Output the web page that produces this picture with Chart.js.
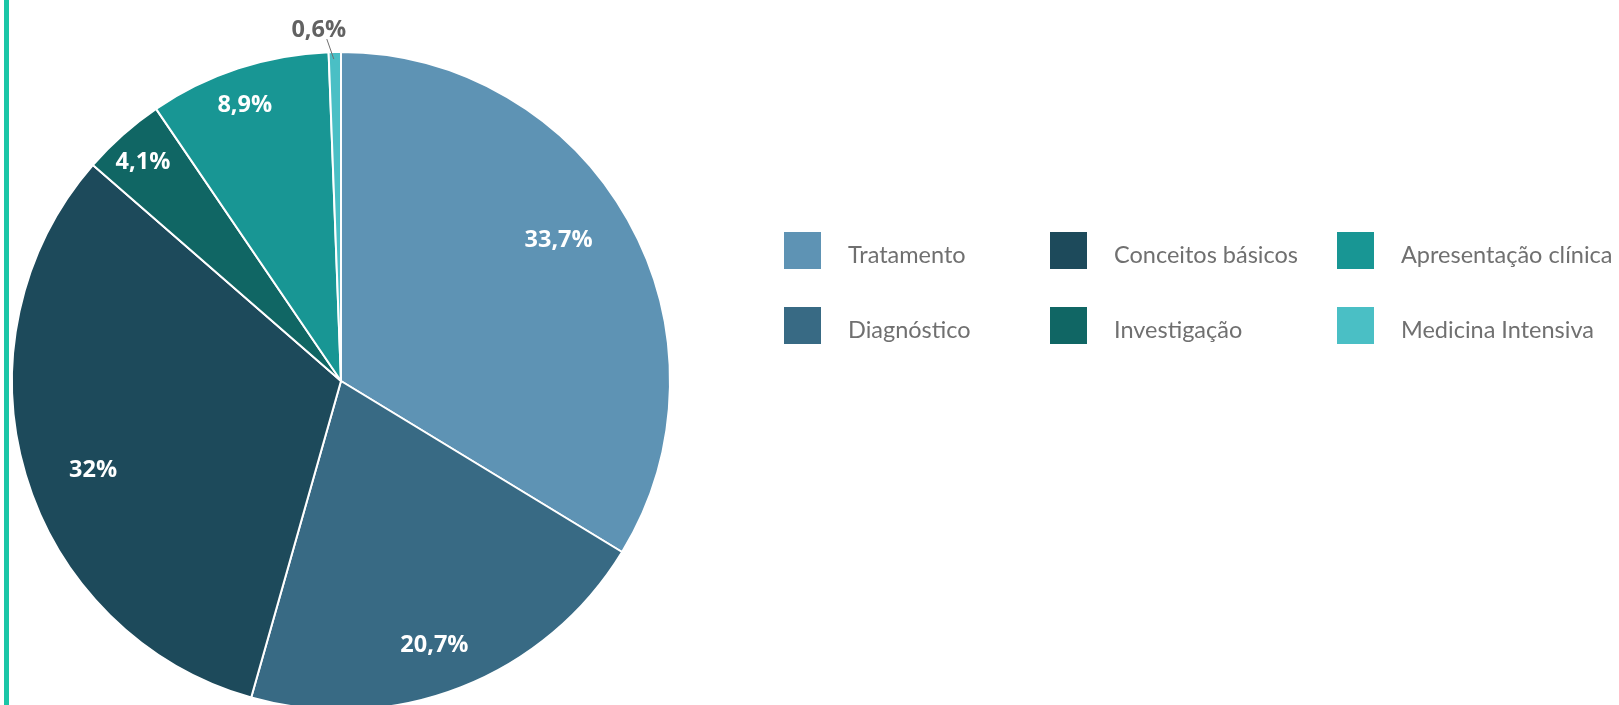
<!DOCTYPE html>
<html lang="pt">
<head>
<meta charset="utf-8">
<title>Distribuição por tema</title>
<script src="https://cdn.jsdelivr.net/npm/chart.js@4"></script>
<style>
  html, body { margin: 0; padding: 0; background: #ffffff; overflow: hidden; }
  #wrap { position: relative; width: 1619px; height: 705px; overflow: hidden; }
  #accent { position: absolute; left: 4px; top: 0; width: 5px; height: 705px; background: #1ac6a7; }
  #pie { position: absolute; left: 0; top: 0; }
</style>
</head>
<body>
<div id="wrap">
  <canvas id="pie" width="1619" height="720"></canvas>
  <div id="accent"></div>
</div>
<script>
// Share of questions per topic (%)
const categories = ['Tratamento', 'Diagnóstico', 'Conceitos básicos', 'Investigação', 'Apresentação clínica', 'Medicina Intensiva'];
const shares = [33.7, 20.7, 32, 4.1, 8.9, 0.6];
const sliceColors = ['#5e93b4', '#386a84', '#1d4a5b', '#106664', '#189694', '#4abfc5'];

// Percent text in Portuguese notation (decimal comma)
const valueLabels = shares.map(v => String(v).replace('.', ',') + '%');

// Where each value label sits: fraction of the radius and a small turn (degrees)
const labelPlacement = [
  { r: 0.79, turn: -3.8 },
  { r: 0.85, turn: 1.9 },
  { r: 0.80, turn: -3.1 },
  { r: 0.90, turn: -0.4 },
  { r: 0.89, turn: -1.0 },
  { outside: true }
];

const sliceLabels = {
  id: 'sliceLabels',
  afterDatasetsDraw(chart) {
    const ctx = chart.ctx;
    const arcs = chart.getDatasetMeta(0).data;
    ctx.save();
    ctx.font = 'bold 23.5px "Open Sans", sans-serif';
    ctx.textAlign = 'center';
    ctx.textBaseline = 'middle';
    arcs.forEach((arc, i) => {
      const p = arc.getProps(['x', 'y', 'startAngle', 'endAngle', 'outerRadius'], true);
      const mid = (p.startAngle + p.endAngle) / 2;
      const place = labelPlacement[i];
      if (place.outside) {
        const ex = p.x + Math.cos(mid) * p.outerRadius;
        const ey = p.y + Math.sin(mid) * p.outerRadius;
        ctx.strokeStyle = '#6f6f6f';
        ctx.lineWidth = 1;
        ctx.beginPath();
        ctx.moveTo(ex - 8, ey - 13);
        ctx.lineTo(ex - 1, ey + 7);
        ctx.stroke();
        ctx.fillStyle = '#626262';
        ctx.fillText(valueLabels[i], ex - 16, ey - 22);
      } else {
        const a = mid + place.turn * Math.PI / 180;
        const d = p.outerRadius * place.r;
        ctx.fillStyle = '#ffffff';
        ctx.fillText(valueLabels[i], p.x + Math.cos(a) * d, p.y + Math.sin(a) * d + 1);
      }
    });
    ctx.restore();
  }
};

// Legend laid out in three columns, two rows, filled column by column
const gridLegend = {
  id: 'gridLegend',
  afterDraw(chart) {
    const ctx = chart.ctx;
    const colX = [784, 1050, 1337];
    const rowY = [232, 307];
    const box = 37;
    ctx.save();
    ctx.font = '23.5px Lato, "Open Sans", sans-serif';
    ctx.textAlign = 'left';
    ctx.textBaseline = 'middle';
    categories.forEach((name, i) => {
      const x = colX[Math.floor(i / 2)];
      const y = rowY[i % 2];
      ctx.fillStyle = sliceColors[i];
      ctx.fillRect(x, y, box, box);
      ctx.fillStyle = '#707070';
      ctx.fillText(name, x + 64, y + box / 2 + 5);
    });
    ctx.restore();
  }
};

new Chart(document.getElementById('pie'), {
  type: 'pie',
  data: {
    labels: categories,
    datasets: [{
      data: shares,
      backgroundColor: sliceColors,
      borderColor: '#ffffff',
      borderWidth: 2,
      radius: 329
    }]
  },
  options: {
    responsive: false,
    animation: false,
    layout: { padding: { left: 0, right: 937, top: 42, bottom: 0 } },
    plugins: {
      legend: { display: false },
      tooltip: { enabled: false }
    }
  },
  plugins: [sliceLabels, gridLegend]
});
</script>
</body>
</html>
